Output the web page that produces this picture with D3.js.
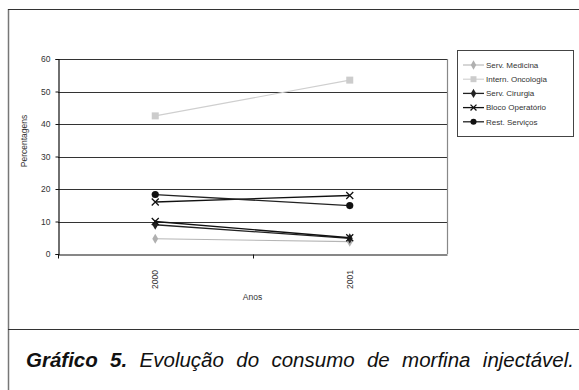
<!DOCTYPE html>
<html>
<head>
<meta charset="utf-8">
<script src="https://cdn.jsdelivr.net/npm/d3@7"></script>
<style>
  html, body { margin: 0; padding: 0; background: #fff; }
  svg { display: block; }
  text { font-family: "Liberation Sans", Arial, sans-serif; }
</style>
</head>
<body>
<svg id="chart" width="579" height="390"></svg>
<script>
// Consumo de morfina injectável por serviço (%)
const years = ["2000", "2001"];
const yTicks = [0, 10, 20, 30, 40, 50, 60];

const servMedicina     = [4.7, 3.8];
const internOncologia  = [42.5, 53.5];
const servCirurgia     = [9.0, 4.8];
const blocoOperatorio  = [16.0, 18.0];
const restServicos     = [18.3, 14.9];
const blocoOperatorio2 = [10.0, 5.0];

const series = [
  { name: "Serv. Medicina",    values: servMedicina,     line: "#b5b5b5", width: 1.1, marker: "diamond", fill: "#b0b0b0", legend: true },
  { name: "Intern. Oncologia", values: internOncologia,  line: "#cfcfcf", width: 1.1, marker: "square",  fill: "#cccccc", legend: true },
  { name: "Serv. Cirurgia",    values: servCirurgia,     line: "#222",    width: 1.3, marker: "diamond", fill: "#222",    legend: true },
  { name: "Bloco Operatório",  values: blocoOperatorio,  line: "#111",    width: 1.3, marker: "x",       fill: "#111",    legend: true },
  { name: "Rest. Serviços",    values: restServicos,     line: "#222",    width: 1.3, marker: "circle",  fill: "#111",    legend: true },
  { name: "Bloco Operatório",  values: blocoOperatorio2, line: "#111",    width: 1.3, marker: "x",       fill: "#111",    legend: false }
];

const svg = d3.select("#chart");

// outer frame
svg.append("line").attr("x1", 8.5).attr("x2", 8.5).attr("y1", 9).attr("y2", 390)
  .attr("stroke", "#777").attr("stroke-width", 1.5);
svg.append("line").attr("x1", 8).attr("x2", 579).attr("y1", 9.5).attr("y2", 9.5)
  .attr("stroke", "#333").attr("stroke-width", 1);
svg.append("line").attr("x1", 8).attr("x2", 579).attr("y1", 329.5).attr("y2", 329.5)
  .attr("stroke", "#333").attr("stroke-width", 1.2);

// plot area
const plotL = 58, plotR = 447, plotT = 59, plotB = 254;
const x = d3.scaleBand().domain(years).range([plotL, plotR]);
const y = d3.scaleLinear().domain([0, 60]).range([plotB, plotT]);

// gridlines
svg.append("g").selectAll("line").data(yTicks.filter(d => d > 0)).join("line")
  .attr("x1", plotL).attr("x2", plotR)
  .attr("y1", d => Math.round(y(d)) + 0.5).attr("y2", d => Math.round(y(d)) + 0.5)
  .attr("stroke", "#333").attr("stroke-width", 1.2);

// right border of plot
svg.append("line").attr("x1", plotR + 0.5).attr("x2", plotR + 0.5).attr("y1", plotT).attr("y2", plotB)
  .attr("stroke", "#888").attr("stroke-width", 1.2);

// y axis
const yAxis = svg.append("g").attr("transform", `translate(${plotL + 0.5},0)`)
  .call(d3.axisLeft(y).tickValues(yTicks).tickSize(3).tickPadding(5));
yAxis.select(".domain").attr("stroke", "#111").attr("stroke-width", 1.2);
yAxis.selectAll(".tick line").attr("stroke", "#111");
yAxis.selectAll(".tick text").attr("fill", "#333").style("font-size", "8.5px")
  .style("font-family", "'Liberation Sans', Arial, sans-serif");

// x axis
const xAxis = svg.append("g").attr("transform", `translate(0,${Math.round(y(0)) + 0.5})`)
  .call(d3.axisBottom(x).tickSize(0).tickPadding(0));
xAxis.select(".domain").attr("stroke", "#111").attr("stroke-width", 1.2);
xAxis.selectAll(".tick text")
  .attr("transform", "rotate(-90)")
  .attr("text-anchor", "middle")
  .attr("x", -25).attr("y", 0).attr("dy", "0.35em")
  .attr("fill", "#333").style("font-size", "8.5px")
  .style("font-family", "'Liberation Sans', Arial, sans-serif");
// tick mark between categories
xAxis.append("g").selectAll("line").data(years.slice(1)).join("line")
  .attr("x1", d => Math.round(x(d)) + 0.5).attr("x2", d => Math.round(x(d)) + 0.5)
  .attr("y1", 0).attr("y2", 4).attr("stroke", "#111");
xAxis.append("line").attr("x1", plotL + 0.5).attr("x2", plotL + 0.5).attr("y1", 0).attr("y2", 4).attr("stroke", "#111");

// axis titles
svg.append("text").attr("x", (plotL + plotR) / 2).attr("y", 300)
  .attr("text-anchor", "middle").attr("fill", "#333").style("font-size", "8.5px").text("Anos");
svg.append("text").attr("transform", "translate(27,141) rotate(-90)")
  .attr("text-anchor", "middle").attr("fill", "#333").style("font-size", "8.5px").text("Percentagens");

// markers
function drawMarker(g, type, cx, cy, fill, size) {
  const s = size || 1;
  if (type === "diamond") {
    g.append("path").attr("d", d3.symbol(d3.symbolDiamond, 30 * s)())
      .attr("transform", `translate(${cx},${cy})`).attr("fill", fill);
  } else if (type === "square") {
    g.append("rect").attr("x", cx - 3.5 * s).attr("y", cy - 3.5 * s)
      .attr("width", 7 * s).attr("height", 7 * s).attr("fill", fill);
  } else if (type === "circle") {
    g.append("circle").attr("cx", cx).attr("cy", cy).attr("r", 3.6 * s).attr("fill", fill);
  } else if (type === "x") {
    const r = 3.5 * s;
    g.append("path").attr("d", `M${cx - r},${cy - r}L${cx + r},${cy + r}M${cx - r},${cy + r}L${cx + r},${cy - r}`)
      .attr("stroke", fill).attr("stroke-width", 1.3).attr("fill", "none");
  }
}

const cx = d => x(d) + x.bandwidth() / 2;
const lineGen = d3.line().x((v, i) => cx(years[i])).y(v => y(v));

const marks = svg.append("g");
series.forEach(s => {
  marks.append("path").datum(s.values).attr("d", lineGen)
    .attr("fill", "none").attr("stroke", s.line).attr("stroke-width", s.width);
});
series.forEach(s => {
  s.values.forEach((v, i) => drawMarker(marks, s.marker, cx(years[i]), y(v), s.fill));
});

// legend
const lg = svg.append("g");
lg.append("rect").attr("x", 457.5).attr("y", 50.5).attr("width", 116).attr("height", 86)
  .attr("fill", "#fff").attr("stroke", "#444").attr("stroke-width", 1);
series.filter(s => s.legend).forEach((s, i) => {
  const yy = 65 + i * 14.2;
  lg.append("line").attr("x1", 463).attr("x2", 484).attr("y1", yy).attr("y2", yy)
    .attr("stroke", s.line).attr("stroke-width", s.width);
  drawMarker(lg, s.marker, 473.5, yy, s.fill, 0.85);
  lg.append("text").attr("x", 486).attr("y", yy).attr("dy", "0.35em")
    .attr("fill", "#333").style("font-size", "8px").text(s.name);
});

// caption, justified across the frame
const capLeft = 26, capRight = 574;
const cap = svg.append("text").attr("x", capLeft).attr("y", 367)
  .attr("fill", "#111").style("font-size", "20.5px").style("font-style", "italic");
cap.append("tspan").style("font-weight", "bold").text("Gráfico 5.");
cap.append("tspan").text(" Evolução do consumo de morfina injectável.");
const gaps = 7;
let ws = 0;
for (let k = 0; k < 4; k++) {
  const w = cap.node().getBBox().width;
  ws += (capRight - capLeft - w) / gaps;
  cap.style("word-spacing", ws + "px");
}
</script>
</body>
</html>
